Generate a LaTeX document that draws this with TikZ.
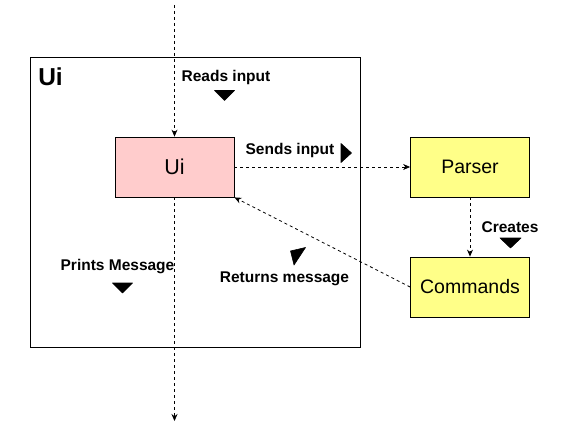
\documentclass[tikz,border=0pt]{standalone}
\usepackage{fontspec}
\setmainfont{Liberation Sans}
\usetikzlibrary{arrows.meta}
\definecolor{uipink}{HTML}{FFCCCC}
\definecolor{ylw}{HTML}{FFFF88}
\begin{document}
\begin{tikzpicture}[x=1pt,y=-1pt,
  box/.style={draw=black,line width=0.8pt,minimum width=119pt,minimum height=60pt,inner sep=0pt,font=\fontsize{19.5}{22}\selectfont},
  lbl/.style={font=\fontsize{15.5}{17}\selectfont\bfseries,inner sep=0pt},
  conn/.style={draw=black,line width=0.8pt,dash pattern=on 3pt off 3pt,-{Stealth[length=7pt,width=6pt]}},
  tri/.style={fill=black,draw=black,line join=round,line width=0.6pt}]
\useasboundingbox (0,0) rectangle (561,433);
\draw[line width=0.8pt] (30,57) rectangle (360,347);
\node[font=\fontsize{24.5}{26}\selectfont\bfseries,inner sep=0pt] (title) at (50.5,77) {Ui};
\node[box,fill=uipink,font=\fontsize{21.5}{24}\selectfont] (ui) at (174.5,167) {Ui};
\node[box,fill=ylw] (parser) at (470,167) {Parser};
\node[box,fill=ylw] (cmd) at (470,287) {Commands};
\coordinate (top) at (174.5,5);
\coordinate (bot) at (174.5,421);
\draw[conn] (top) -- (ui.north);
\draw[conn] (ui.south) -- (bot);
\draw[conn] (ui.east) -- (parser.west);
\draw[conn] (parser.south) -- (cmd.north);
\draw[conn] (cmd.west) -- (ui.south east);
\node[lbl] (l1) at (226,77) {Reads input};
\node[lbl] (l2) at (290,150) {Sends input};
\node[lbl] (l3) at (510,227) {Creates};
\node[lbl] (l4) at (284.5,279) {Returns message};
\node[lbl] (l5) at (117.5,267) {Prints Message};
\fill[tri] (214.5,90.5) -- (234.5,90.5) -- (224.5,100.5) -- cycle;
\fill[tri] (341,143.5) -- (351.5,153) -- (341,162.5) -- cycle;
\fill[tri] (500,238) -- (521,238) -- (510.5,248) -- cycle;
\fill[tri] (290.5,251) -- (305.5,247.5) -- (294,265) -- cycle;
\fill[tri] (112.5,283) -- (132.5,283) -- (122.5,293) -- cycle;
\end{tikzpicture}
\end{document}
